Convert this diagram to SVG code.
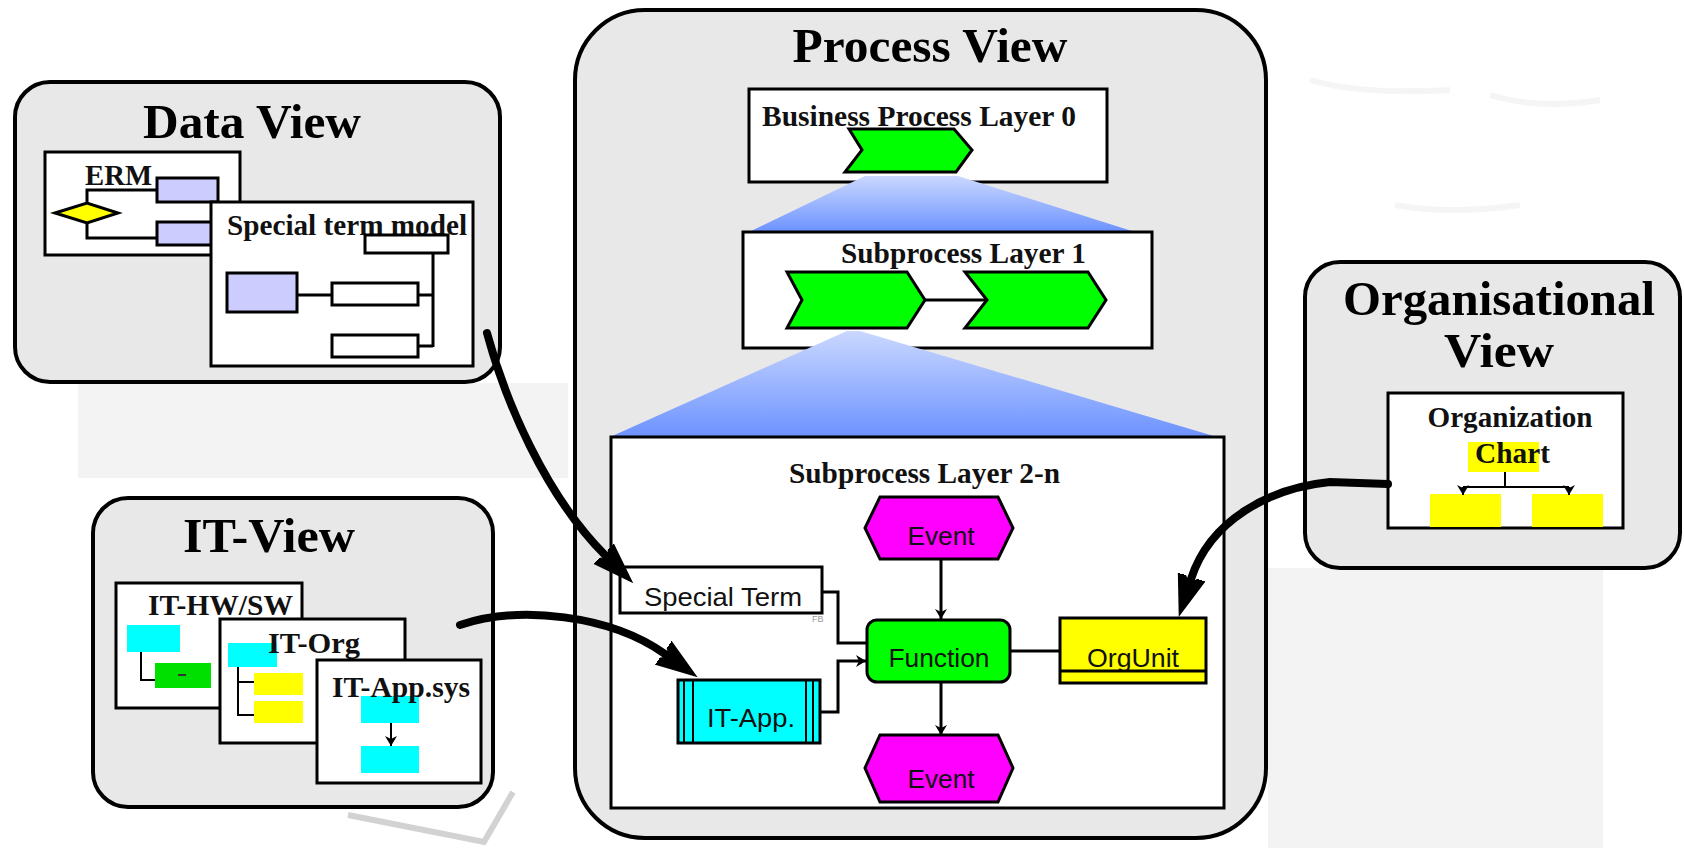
<svg xmlns="http://www.w3.org/2000/svg" width="1684" height="848" viewBox="0 0 1684 848">
<style>
.view{fill:#e8e8e8;stroke:#000;stroke-width:4}
.box{fill:#fff;stroke:#000;stroke-width:3}
.ln{fill:none;stroke:#000;stroke-width:3}
.thin{fill:none;stroke:#000;stroke-width:2}
.big{fill:none;stroke:#000;stroke-width:8;stroke-linecap:round}
.title{font-family:"Liberation Serif",serif;font-weight:bold;font-size:48px;fill:#000}
.sub{font-family:"Liberation Serif",serif;font-weight:bold;font-size:29px;fill:#111}
.lbl{font-family:"Liberation Sans",Arial,sans-serif;font-size:26px;fill:#111}
.green{fill:#00ff00;stroke:#000;stroke-width:3}
.ev{fill:#ff00ff;stroke:#000;stroke-width:3}
.cyan{fill:#00ffff}
.yel{fill:#ffff00}
.purple{fill:#ccccff;stroke:#000;stroke-width:3}
.bg{fill:#f3f3f3}
</style>
<defs>
<linearGradient id="fan" x1="0" y1="0" x2="0" y2="1">
<stop offset="0" stop-color="#cad8ff"/>
<stop offset="1" stop-color="#6c92ff"/>
</linearGradient>
<marker id="dart" markerUnits="userSpaceOnUse" viewBox="-2 -22 64 44" refX="0" refY="0" markerWidth="64" markerHeight="44" orient="auto">
<path d="M0,-4 L-18,-20 L40,0 L-18,20 L0,4 Z" fill="#000"/>
</marker>
<marker id="sm" markerUnits="userSpaceOnUse" viewBox="0 -6 10 12" refX="10" refY="0" markerWidth="10" markerHeight="12" orient="auto">
<path d="M0,-6 L10,0 L0,6 L3,0 Z" fill="#000"/>
</marker>
</defs>
<rect width="1684" height="848" fill="#fff"/>
<g id="background">
<rect class="bg" x="78" y="383" width="490" height="95"/>
<rect class="bg" x="1268" y="568" width="335" height="280"/>
<path d="M348,815 L484,842 L513,792" fill="none" stroke="#d2d2d2" stroke-width="6"/>
<path d="M1310,80 Q1360,95 1450,90 M1490,95 Q1540,110 1600,100 M1395,205 Q1450,215 1520,205" fill="none" stroke="#f5f5f5" stroke-width="6"/>
</g>
<g id="data-view">
<rect class="view" x="15" y="82" width="485" height="300" rx="35"/>
<text class="title" x="252" y="138" text-anchor="middle" textLength="218" lengthAdjust="spacingAndGlyphs">Data View</text>
<g id="erm">
<rect class="box" x="45" y="152" width="195" height="103"/>
<text class="sub" x="85" y="185" font-size="27" textLength="67" lengthAdjust="spacingAndGlyphs">ERM</text>
<path class="ln" d="M157,190 H87 V238 H157"/>
<polygon points="55,213 87,203 118,213 87,223" fill="#ffff00" stroke="#000" stroke-width="3"/>
<rect class="purple" x="157" y="178" width="61" height="24"/>
<rect class="purple" x="157" y="222" width="61" height="23"/>
</g>
<g id="special-term-model">
<rect class="box" x="211" y="202" width="262" height="164"/>
<text class="sub" x="227" y="235" textLength="240" lengthAdjust="spacingAndGlyphs">Special term model</text>
<rect class="box" x="365" y="235" width="83" height="18"/>
<path class="ln" d="M433,253 V347 M297,295 H332 M418,295 H433 M418,346 H433"/>
<rect class="purple" x="227" y="273" width="70" height="39"/>
<rect class="box" x="332" y="283" width="86" height="22"/>
<rect class="box" x="332" y="335" width="86" height="22"/>
</g>
</g>
<g id="it-view">
<rect class="view" x="93" y="498" width="400" height="309" rx="35"/>
<text class="title" x="183" y="552" textLength="172" lengthAdjust="spacingAndGlyphs">IT-View</text>
<g id="it-hwsw">
<rect class="box" x="116" y="583" width="186" height="125"/>
<text class="sub" x="148" y="615" textLength="145" lengthAdjust="spacingAndGlyphs">IT-HW/SW</text>
<rect class="cyan" x="127" y="625" width="53" height="27"/>
<path class="thin" d="M141,652 V680 H155"/>
<rect x="155" y="663" width="56" height="25" fill="#00e000"/>
<rect x="178" y="674" width="8" height="2" fill="#333"/>
</g>
<g id="it-org">
<rect class="box" x="220" y="619" width="185" height="124"/>
<rect class="cyan" x="228" y="643" width="49" height="24"/>
<text class="sub" x="268" y="653" textLength="92" lengthAdjust="spacingAndGlyphs">IT-Org</text>
<path class="thin" d="M238,667 V715 H254 M238,682 H254"/>
<rect class="yel" x="254" y="673" width="49" height="22"/>
<rect class="yel" x="254" y="701" width="49" height="22"/>
</g>
<g id="it-appsys">
<rect class="box" x="317" y="660" width="164" height="123"/>
<rect class="cyan" x="361" y="696" width="58" height="27"/>
<text class="sub" x="332" y="697" textLength="138" lengthAdjust="spacingAndGlyphs">IT-App.sys</text>
<path class="thin" d="M391,723 V746" marker-end="url(#sm)"/>
<rect class="cyan" x="361" y="746" width="58" height="27"/>
</g>
</g>
<g id="process-view">
<rect class="view" x="575" y="10" width="691" height="828" rx="70"/>
<text class="title" x="930" y="62" text-anchor="middle" textLength="275" lengthAdjust="spacingAndGlyphs">Process View</text>
<g id="bp-layer0">
<rect class="box" x="749" y="89" width="358" height="93"/>
<text class="sub" x="762" y="126" textLength="314" lengthAdjust="spacingAndGlyphs">Business Process Layer 0</text>
<polygon points="865,176 958,176 1135,232 749,232" fill="url(#fan)"/>
<polygon class="green" points="849,129 954,129 972,150 956,172 845,172 862,150"/>
</g>
<g id="sp-layer1">
<rect class="box" x="743" y="232" width="409" height="116" stroke-width="4"/>
<text class="sub" x="841" y="263" textLength="245" lengthAdjust="spacingAndGlyphs">Subprocess Layer 1</text>
<path class="ln" d="M925,300 H987"/>
<polygon class="green" points="787,272 907,272 925,300 907,328 787,328 802,300"/>
<polygon class="green" points="965,272 1088,272 1106,300 1088,328 965,328 987,300"/>
<polygon points="847,331 860,331 1217,437 610,437" fill="url(#fan)"/>
</g>
<g id="sp-layer2n">
<rect class="box" x="611" y="437" width="613" height="371" stroke-width="4"/>
<text class="sub" x="789" y="483" textLength="271" lengthAdjust="spacingAndGlyphs">Subprocess Layer 2-n</text>
<g id="event1">
<polygon class="ev" points="880,497 998,497 1013,528 998,559 880,559 865,528"/>
<text class="lbl" x="941" y="545" text-anchor="middle" textLength="67" lengthAdjust="spacingAndGlyphs">Event</text>
</g>
<g id="function">
<rect class="green" x="867" y="620" width="143" height="62" rx="10"/>
<text class="lbl" x="939" y="667" text-anchor="middle" textLength="101" lengthAdjust="spacingAndGlyphs">Function</text>
</g>
<g id="event2">
<polygon class="ev" points="880,735 998,735 1013,768 998,802 880,802 865,768"/>
<text class="lbl" x="941" y="788" text-anchor="middle" textLength="67" lengthAdjust="spacingAndGlyphs">Event</text>
</g>
<g id="special-term">
<rect class="box" x="620" y="567" width="202" height="46"/>
<text class="lbl" x="644" y="606" fill="#222" textLength="158" lengthAdjust="spacingAndGlyphs">Special Term</text>
<text x="812" y="622" font-family="Liberation Sans, sans-serif" font-size="9" fill="#999">FB</text>
</g>
<g id="it-app">
<rect x="678" y="680" width="142" height="63" fill="#00ffff" stroke="#000" stroke-width="3"/>
<path class="thin" d="M684,680 V743 M693,680 V743 M806,680 V743 M813,680 V743"/>
<text class="lbl" x="751" y="727" text-anchor="middle" textLength="88" lengthAdjust="spacingAndGlyphs">IT-App.</text>
</g>
<g id="orgunit">
<rect x="1060" y="618" width="146" height="65" fill="#ffff00" stroke="#000" stroke-width="3"/>
<text class="lbl" x="1133" y="667" text-anchor="middle" textLength="92" lengthAdjust="spacingAndGlyphs">OrgUnit</text>
<path class="ln" d="M1060,671 H1206"/>
</g>
</g>
</g>
<g id="org-view">
<rect class="view" x="1305" y="262" width="375" height="306" rx="35"/>
<text class="title" x="1499" y="315" font-size="46" text-anchor="middle" textLength="312" lengthAdjust="spacingAndGlyphs">Organisational</text>
<text class="title" x="1499" y="367" font-size="46" text-anchor="middle" textLength="110" lengthAdjust="spacingAndGlyphs">View</text>
<g id="org-chart">
<rect class="box" x="1388" y="393" width="235" height="135"/>
<text class="sub" x="1510" y="427" font-size="28" text-anchor="middle" textLength="165" lengthAdjust="spacingAndGlyphs">Organization</text>
<rect class="yel" x="1468" y="442" width="71" height="30"/>
<text class="sub" x="1475" y="463" font-size="28" textLength="75" lengthAdjust="spacingAndGlyphs">Chart</text>
<rect class="yel" x="1430" y="494" width="71" height="33"/>
<rect class="yel" x="1532" y="494" width="71" height="33"/>
<path class="thin" d="M1505,472 V487 M1463,487 H1569"/>
<path class="thin" d="M1463,487 V495" marker-end="url(#sm)"/>
<path class="thin" d="M1569,487 V495" marker-end="url(#sm)"/>
</g>
</g>
<g id="connectors">
<path class="ln" d="M941,559 V619" marker-end="url(#sm)"/>
<path class="ln" d="M941,682 V735" marker-end="url(#sm)"/>
<path class="ln" d="M822,592 H838 V643 H867"/>
<path class="ln" d="M820,712 H838 V661 H866" marker-end="url(#sm)"/>
<path class="ln" d="M1010,651 H1060"/>
<path class="big" d="M487,333 C505,400 545,495 605,555" marker-end="url(#dart)"/>
<path class="big" d="M460,625 C520,605 610,615 665,654" marker-end="url(#dart)"/>
<path class="big" d="M1388,484 L1330,482 C1270,488 1210,520 1191,579" marker-end="url(#dart)"/>
</g>
</svg>
